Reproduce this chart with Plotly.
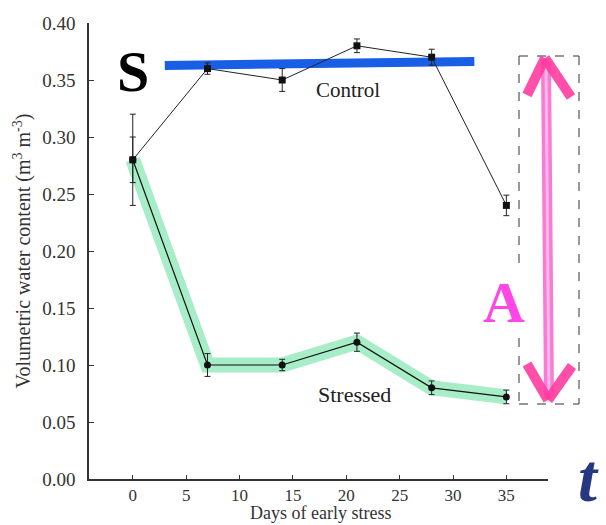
import plotly.graph_objects as go

# ---- data ----
days = [0, 7, 14, 21, 28, 35]
control = [0.28, 0.36, 0.35, 0.38, 0.37, 0.24]
control_err = [0.04, 0.005, 0.01, 0.006, 0.007, 0.009]
stressed = [0.28, 0.10, 0.10, 0.12, 0.08, 0.072]
stressed_err = [0.02, 0.01, 0.005, 0.008, 0.006, 0.006]
x_ticks = [0, 5, 10, 15, 20, 25, 30, 35]
y_ticks = [0.0, 0.05, 0.10, 0.15, 0.20, 0.25, 0.30, 0.35, 0.40]
x_title = "Days of early stress"
y_title = "Volumetric water content (m<sup>3</sup> m<sup>-3</sup>)"

# overlay highlight (S line) in data units
s_line_x = [3, 32]
s_line_y = [0.3628, 0.3662]

W, H = 606, 525
ML, MR, MT, MB = 89, 58, 23, 46
PW, PH = W - ML - MR, H - MT - MB

def px(x):
    return (x - ML) / PW

def py(y):
    return (H - MB - y) / PH

SERIF = "Liberation Serif"

fig = go.Figure()

# green highlighter along stressed
fig.add_trace(go.Scatter(x=days, y=stressed, mode="lines",
                         line=dict(color="rgba(80,220,145,0.5)", width=15),
                         hoverinfo="skip", showlegend=False))
# blue S line
fig.add_trace(go.Scatter(x=s_line_x, y=s_line_y, mode="lines",
                         line=dict(color="rgb(25,95,230)", width=9),
                         hoverinfo="skip", showlegend=False))

fig.add_trace(go.Scatter(x=days, y=control, mode="lines+markers",
                         line=dict(color="#222", width=1),
                         marker=dict(symbol="square", size=7, color="#111"),
                         error_y=dict(type="data", array=control_err, color="#222",
                                      thickness=1, width=3),
                         showlegend=False))
fig.add_trace(go.Scatter(x=days, y=stressed, mode="lines+markers",
                         line=dict(color="#111", width=1.2),
                         marker=dict(symbol="circle", size=7, color="#111"),
                         error_y=dict(type="data", array=stressed_err, color="#222",
                                      thickness=1, width=3),
                         showlegend=False))

shapes = []
# dashed box (pixel positions converted to paper)
box_l, box_r, box_t, box_b = 519, 579, 56, 404
gap_t, gap_b = 267, 338
dash = dict(color="#333", width=1, dash="dash")
for (x0, y0, x1, y1) in [(box_l, box_t, box_r, box_t), (box_r, box_t, box_r, box_b),
                         (box_l, box_b, box_r, box_b), (box_l, box_t, box_l, gap_t),
                         (box_l, gap_b, box_l, box_b)]:
    shapes.append(dict(type="line", xref="paper", yref="paper",
                       x0=px(x0), y0=py(y0), x1=px(x1), y1=py(y1), line=dash))

# pink double arrow
shapes.append(dict(type="line", xref="paper", yref="paper",
                   x0=px(546), y0=py(62), x1=px(549), y1=py(396),
                   line=dict(color="rgba(245,110,210,0.9)", width=10)))
shapes.append(dict(type="line", xref="paper", yref="paper",
                   x0=px(546), y0=py(62), x1=px(549), y1=py(396),
                   line=dict(color="rgba(255,190,235,0.9)", width=3)))
heads = [((545, 58), (527, 95)), ((545, 58), (571, 97)),
         ((548, 400), (527, 364)), ((548, 400), (572, 366))]
for (a, b) in heads:
    shapes.append(dict(type="line", xref="paper", yref="paper",
                       x0=px(a[0]), y0=py(a[1]), x1=px(b[0]), y1=py(b[1]),
                       line=dict(color="rgba(255,60,160,0.9)", width=10)))

annotations = [
    dict(text="<b>S</b>", x=px(133), y=py(72), xref="paper", yref="paper",
         xanchor="center", yanchor="middle",
         showarrow=False, font=dict(family=SERIF, size=58, color="#000")),
    dict(text="<b>A</b>", x=px(504), y=py(302), xref="paper", yref="paper",
         xanchor="center", yanchor="middle",
         showarrow=False, font=dict(family=SERIF, size=58, color="rgb(255,70,230)")),
    dict(text="<b><i>t</i></b>", x=px(588), y=py(478), xref="paper", yref="paper",
         xanchor="center", yanchor="middle",
         showarrow=False, font=dict(family=SERIF, size=68, color="rgb(40,55,130)")),
    dict(text="Control", x=20.2, y=0.341, xref="x", yref="y",
         xanchor="center", yanchor="middle",
         showarrow=False, font=dict(family=SERIF, size=21, color="#222")),
    dict(text="Stressed", x=20.8, y=0.074, xref="x", yref="y",
         xanchor="center", yanchor="middle",
         showarrow=False, font=dict(family=SERIF, size=22, color="#222")),
    # x-axis title
    dict(text=x_title, x=px(320), y=py(513), xref="paper", yref="paper",
         xanchor="center", yanchor="middle", borderpad=0,
         showarrow=False, font=dict(family=SERIF, size=18, color="#333")),
]

fig.update_layout(
    width=W, height=H,
    margin=dict(l=ML, r=MR, t=MT, b=MB, pad=0),
    paper_bgcolor="white", plot_bgcolor="white",
    shapes=shapes, annotations=annotations,
    font=dict(family=SERIF, color="#333"),
    xaxis=dict(range=[-4.1, 38.9], tickvals=x_ticks, ticks="inside", ticklen=4,
               tickcolor="#333", showline=True, linecolor="#333", linewidth=1.5,
               showgrid=False, zeroline=False, tickfont=dict(size=17, family=SERIF),
               ticklabelstandoff=0, automargin=False),
    yaxis=dict(range=[0, 0.40], tickvals=y_ticks, tickformat=".2f", ticks="inside",
               ticklen=5, tickcolor="#333", showline=True, linecolor="#333", linewidth=1.5,
               showgrid=False, zeroline=False, tickfont=dict(size=19, family=SERIF),
               ticklabelstandoff=8, automargin=False,
               title=dict(text=y_title, font=dict(size=20, family=SERIF), standoff=6)),
)

fig.write_html("out.html")
